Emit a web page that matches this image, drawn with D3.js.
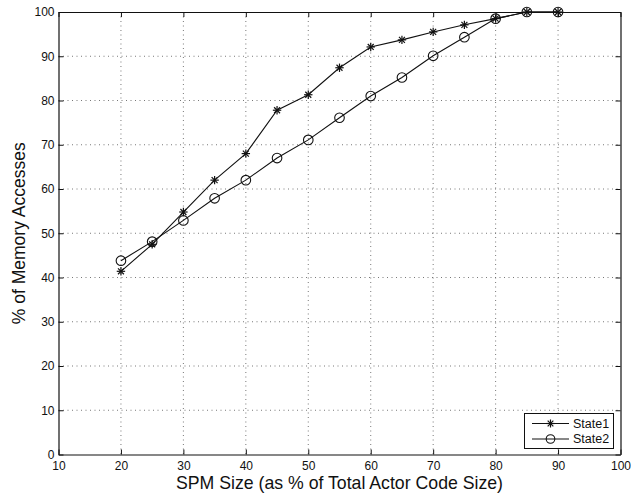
<!DOCTYPE html>
<html>
<head>
<meta charset="utf-8">
<script src="https://cdn.jsdelivr.net/npm/d3@7"></script>
<style>
  html, body { margin: 0; padding: 0; background: #fff; }
  svg { display: block; }
  text { font-family: "Liberation Sans", Arial, Helvetica, sans-serif; fill: #111; }
</style>
</head>
<body>
<svg id="chart" width="631" height="497"></svg>
<script>
// SPM size (% of total actor code size)
const spmSizes = [20, 25, 30, 35, 40, 45, 50, 55, 60, 65, 70, 75, 80, 85, 90];
// % of memory accesses served from the SPM
const state1 = [41.4, 47.5, 54.8, 62.0, 68.0, 77.8, 81.3, 87.4, 92.1, 93.7, 95.5, 97.1, 98.5, 100, 100];
const state2 = [43.8, 48.1, 52.9, 57.9, 62.0, 67.0, 71.1, 76.1, 81.0, 85.2, 90.1, 94.3, 98.5, 100, 100];
const xTicks = [10, 20, 30, 40, 50, 60, 70, 80, 90, 100];
const yTicks = [0, 10, 20, 30, 40, 50, 60, 70, 80, 90, 100];
const seriesNames = ["State1", "State2"];

const svg = d3.select("#chart");
const L = 58.5, R = 620.5, T = 12, B = 454.5;

const x = d3.scaleLinear().domain([10, 100]).range([L, R]);
const y = d3.scaleLinear().domain([0, 100]).range([B, T]);

// dotted grid
const grid = svg.append("g").attr("stroke", "#555").attr("stroke-width", 0.8)
  .attr("stroke-dasharray", "1,3.5");
xTicks.slice(1, -1).forEach(v => {
  grid.append("line").attr("x1", x(v)).attr("x2", x(v)).attr("y1", T).attr("y2", B);
});
yTicks.slice(1, -1).forEach(v => {
  grid.append("line").attr("x1", L).attr("x2", R).attr("y1", y(v)).attr("y2", y(v));
});

// axes with inward ticks on all four sides
const tickLen = 5;
const xAxisB = d3.axisBottom(x).tickValues(xTicks).tickSizeInner(-tickLen).tickSizeOuter(0).tickPadding(7);
const xAxisT = d3.axisTop(x).tickValues(xTicks).tickSizeInner(-tickLen).tickSizeOuter(0).tickFormat("");
const yAxisL = d3.axisLeft(y).tickValues(yTicks).tickSizeInner(-tickLen).tickSizeOuter(0).tickPadding(4);
const yAxisR = d3.axisRight(y).tickValues(yTicks).tickSizeInner(-tickLen).tickSizeOuter(0).tickFormat("");

function styleAxis(g) {
  g.selectAll("path").attr("stroke", "#111").attr("stroke-width", 1.2);
  g.selectAll("line").attr("stroke", "#111").attr("stroke-width", 1);
  g.selectAll("text").attr("font-size", 12).attr("fill", "#111")
    .attr("font-family", "'Liberation Sans', Arial, sans-serif");
}
svg.append("g").attr("transform", `translate(0,${B})`).call(xAxisB).call(styleAxis);
svg.append("g").attr("transform", `translate(0,${T})`).call(xAxisT).call(styleAxis);
svg.append("g").attr("transform", `translate(${L},0)`).call(yAxisL).call(styleAxis);
svg.append("g").attr("transform", `translate(${R},0)`).call(yAxisR).call(styleAxis);

// axis titles
svg.append("text").attr("x", (L + R) / 2).attr("y", 489).attr("text-anchor", "middle")
  .attr("font-size", 17.7).text("SPM Size (as % of Total Actor Code Size)");
svg.append("text").attr("transform", `translate(24.5,${(T + B) / 2}) rotate(-90)`)
  .attr("text-anchor", "middle").attr("font-size", 17.5).text("% of Memory Accesses");

// marker drawers
function star(g, cx, cy, r) {
  const s = g.append("g").attr("stroke", "#111").attr("stroke-width", 1.2);
  for (let k = 0; k < 4; k++) {
    const a = k * Math.PI / 4;
    s.append("line")
      .attr("x1", cx - r * Math.cos(a)).attr("y1", cy - r * Math.sin(a))
      .attr("x2", cx + r * Math.cos(a)).attr("y2", cy + r * Math.sin(a));
  }
}
function ring(g, cx, cy, r) {
  g.append("circle").attr("cx", cx).attr("cy", cy).attr("r", r)
    .attr("fill", "none").attr("stroke", "#111").attr("stroke-width", 1.1);
}

const line = d3.line().x(d => x(d[0])).y(d => y(d[1]));
const plot = svg.append("g");
const d1 = spmSizes.map((s, i) => [s, state1[i]]);
const d2 = spmSizes.map((s, i) => [s, state2[i]]);

plot.append("path").datum(d2).attr("d", line).attr("fill", "none").attr("stroke", "#111").attr("stroke-width", 1.1);
plot.append("path").datum(d1).attr("d", line).attr("fill", "none").attr("stroke", "#111").attr("stroke-width", 1.1);
d2.forEach(d => ring(plot, x(d[0]), y(d[1]), 4.8));
d1.forEach(d => star(plot, x(d[0]), y(d[1]), 4.2));

// legend
const lg = svg.append("g");
lg.append("rect").attr("x", 524.5).attr("y", 413.5).attr("width", 89).attr("height", 35)
  .attr("fill", "#fff").attr("stroke", "#111").attr("stroke-width", 1);
const rows = [423.5, 439];
rows.forEach((ry, i) => {
  lg.append("line").attr("x1", 532).attr("x2", 569).attr("y1", ry).attr("y2", ry)
    .attr("stroke", "#111").attr("stroke-width", 1.1);
  if (i === 0) star(lg, 550.5, ry, 4); else ring(lg, 550.5, ry, 4.3);
  lg.append("text").attr("x", 573).attr("y", ry).attr("dy", "0.35em")
    .attr("font-size", 12.5).text(seriesNames[i]);
});
</script>
</body>
</html>
